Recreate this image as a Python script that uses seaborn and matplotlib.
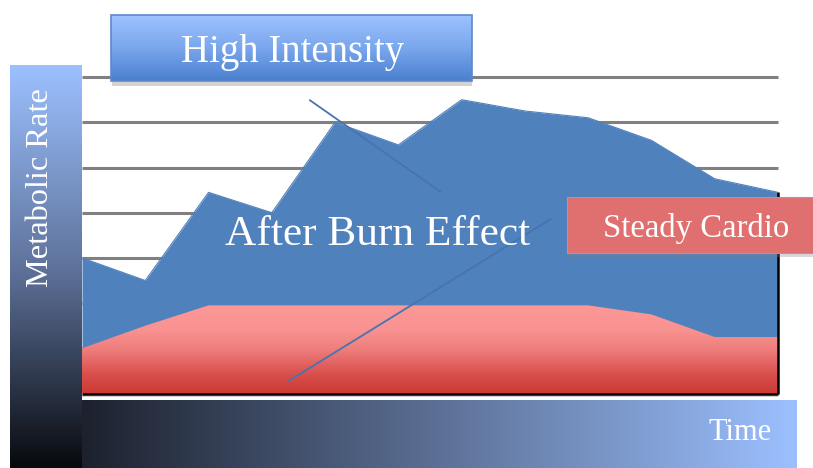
import numpy as np
import matplotlib
matplotlib.use("Agg")
import matplotlib.pyplot as plt
from matplotlib.colors import LinearSegmentedColormap
from matplotlib.patches import Rectangle
import seaborn as sns

# time steps and the two metabolic curves (rate units = gridline steps)
time_steps = list(range(12))
high_intensity = [3.0, 2.5, 4.45, 4.0, 6.0, 5.5, 6.5, 6.25, 6.1, 5.6, 4.75, 4.45]
steady_cardio = [1.0, 1.5, 1.95, 1.95, 1.95, 1.95, 1.95, 1.95, 1.95, 1.75, 1.25, 1.25]
grid_levels = [1, 2, 3, 4, 5, 6, 7]

# callout connector lines (x in time steps, y in rate units)
pointer_hi_x = [3.6, 5.67]
pointer_hi_y = [6.49, 4.46]
pointer_sc_x = [3.27, 7.41]
pointer_sc_y = [0.28, 3.86]

W, H = 813, 468
sns.set_theme(style="white")
plt.rcParams['font.family'] = ['Liberation Serif', 'DejaVu Serif']

fig = plt.figure(figsize=(W / 100, H / 100), dpi=100)


def fbox(x0, y0, x1, y1):
    # pixel box (top-left origin) -> figure fraction rect
    return [x0 / W, 1 - y1 / H, (x1 - x0) / W, (y1 - y0) / H]


def gradient_axes(rect, colors, vertical=True, zorder=2):
    gax = fig.add_axes(rect, zorder=zorder)
    cmap = LinearSegmentedColormap.from_list("g", colors)
    grad = np.linspace(0, 1, 256)
    img = grad.reshape(-1, 1) if vertical else grad.reshape(1, -1)
    gax.imshow(img, cmap=cmap, aspect="auto", origin="upper", interpolation="bilinear")
    gax.set_axis_off()
    return gax


# main chart area
ax = fig.add_axes(fbox(82, 77.1, 778, 393.5), zorder=0)

ax.hlines(grid_levels, 0, 11, colors="#808080", lw=2.2, zorder=1, clip_on=False)

ax.fill_between(time_steps, 0, high_intensity, color="#4F81BD", lw=0, zorder=2)
sns.lineplot(x=time_steps, y=high_intensity, color="#4F81BD", lw=0.8, ax=ax, zorder=2)

# red area with vertical gradient
red_poly = ax.fill_between(time_steps, 0, steady_cardio, facecolor="none", edgecolor="none", zorder=3)
red_cmap = LinearSegmentedColormap.from_list(
    "red", [(0, "#CD3A36"), (0.2, "#D84E4B"), (0.5, "#EE7F7D"), (0.72, "#F99391"), (1.0, "#FC9896")])
red_img = ax.imshow(np.linspace(0, 1, 256).reshape(-1, 1), cmap=red_cmap, aspect="auto",
                    origin="lower", extent=(0, 11, 0, max(steady_cardio)), zorder=3,
                    interpolation="bilinear")
red_img.set_clip_path(red_poly.get_paths()[0], transform=ax.transData)

ax.hlines(-0.06, 0, 11, colors="#C8C8C8", lw=1.2, zorder=4, clip_on=False)
ax.hlines(0, 0, 11, colors="black", lw=1.8, zorder=4, clip_on=False)
ax.vlines(11, 0, high_intensity[-1], colors="black", lw=1.8, zorder=4, clip_on=False)

ax.plot(pointer_hi_x, pointer_hi_y, color="#4674B2", lw=1.3, zorder=5, clip_on=False)
ax.plot(pointer_sc_x, pointer_sc_y, color="#4674B2", lw=1.3, zorder=5, clip_on=False)

ax.set_xlim(0, 11)
ax.set_ylim(0, 7)
ax.set_axis_off()

# axis bars
gradient_axes(fbox(10, 65, 82, 468), [(0, "#9CC1FF"), (0.5, "#5F739C"), (0.8, "#2B3447"), (1, "#07090D")])
gradient_axes(fbox(82, 400, 796, 468), ["#1C212D", "#9CC0FF"], vertical=False)

# High Intensity callout
fig.add_artist(Rectangle(fbox(112, 22, 472, 86)[:2], *fbox(112, 22, 472, 86)[2:],
                         transform=fig.transFigure, color="#D3D3D3", lw=0, zorder=1.5))
gradient_axes(fbox(111, 15, 472, 81), [(0, "#9DC3FF"), (0.5, "#7AA6EC"), (1, "#4A80CF")])
fig.add_artist(Rectangle(fbox(111, 15, 472, 81)[:2], *fbox(111, 15, 472, 81)[2:],
                         transform=fig.transFigure, facecolor="none", edgecolor="#5B8ACB",
                         lw=1.2, zorder=2.5))

# Steady Cardio callout
fig.add_artist(Rectangle(fbox(567, 200, 820, 257)[:2], *fbox(567, 200, 820, 257)[2:],
                         transform=fig.transFigure, color="#808080", alpha=0.3, lw=0, zorder=1.5))
fig.add_artist(Rectangle(fbox(567, 197, 820, 253)[:2], *fbox(567, 197, 820, 253)[2:],
                         transform=fig.transFigure, facecolor="#E07070", edgecolor="#7EA3D6",
                         lw=0.8, zorder=2.6))

# labels
fig.text(292.5 / W, 1 - 61.7 / H, "High Intensity", fontsize=27.9, color="white",
         ha="center", va="baseline", zorder=10)
fig.text(377.5 / W, 1 - 245 / H, "After Burn Effect", fontsize=31.2, color="white",
         ha="center", va="baseline", zorder=10)
fig.text(696.5 / W, 1 - 236.7 / H, "Steady Cardio", fontsize=23.6, color="white",
         ha="center", va="baseline", zorder=10)
fig.text(740 / W, 1 - 440 / H, "Time", fontsize=22, color="white",
         ha="center", va="baseline", zorder=10)
fig.text(40.5 / W, 1 - 187.5 / H, "Metabolic Rate", fontsize=23.3, color="white",
         rotation=90, ha="center", va="center", zorder=10)

fig.savefig("out.png", dpi=100)
